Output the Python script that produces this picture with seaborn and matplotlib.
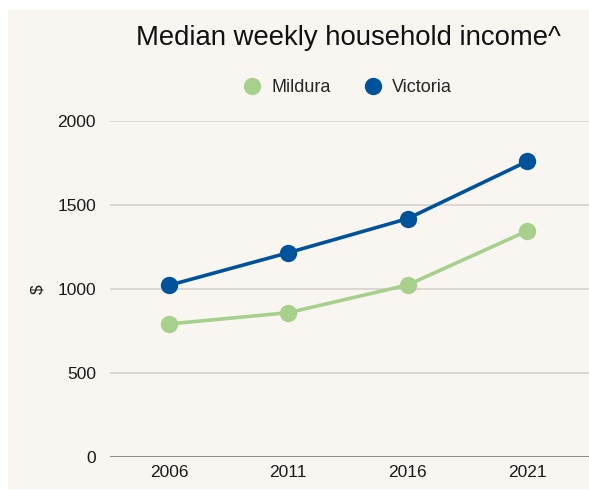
import matplotlib
matplotlib.use("Agg")
import matplotlib.pyplot as plt
import matplotlib.patches as mpatches
from matplotlib.lines import Line2D
import seaborn as sns
import pandas as pd

# ── Data ──────────────────────────────────────────────────────────────────────
years = ["2006", "2011", "2016", "2021"]
mildura = [792, 859, 1024, 1345]
victoria = [1022, 1216, 1419, 1759]
y_ticks = [0, 500, 1000, 1500, 2000]

GREEN = "#a8d08d"
BLUE = "#00539b"
BG = "#f9f6f2"

df = pd.DataFrame({
    "year": years * 2,
    "income": mildura + victoria,
    "region": ["Mildura"] * len(years) + ["Victoria"] * len(years),
})

sns.set_theme(style="white")
plt.rcParams["font.family"] = ["Liberation Sans", "DejaVu Sans"]

fig = plt.figure(figsize=(5.89, 4.90), dpi=100, facecolor="white")
fig.patches.append(mpatches.Rectangle((8 / 589, 1 / 490), 581 / 589, 479 / 490,
                                      transform=fig.transFigure, facecolor=BG,
                                      edgecolor="none", zorder=-10))

ax = fig.add_axes([110 / 589, 33 / 490, 479 / 589, 336 / 490])
ax.set_facecolor("none")

sns.lineplot(data=df, x="year", y="income", hue="region",
             palette={"Mildura": GREEN, "Victoria": BLUE},
             marker="o", markersize=12.5, markeredgewidth=0, linewidth=2.6,
             legend=False, ax=ax, zorder=3)
for line in ax.lines:
    line.set_clip_on(False)

ax.set_xlim(-0.495, 3.52)
ax.set_ylim(0, 2000)
ax.set_yticks(y_ticks)
ax.set_yticklabels([str(t) for t in y_ticks])
ax.grid(axis="y", color="#d8d3cd", linewidth=1.2)
ax.axhline(0, color="#8c8c8c", linewidth=1.4, zorder=2)
for s in ax.spines.values():
    s.set_visible(False)
ax.tick_params(axis="both", length=0, labelsize=12.5, colors="#1a1a1a")
ax.tick_params(axis="y", pad=10)
ax.tick_params(axis="x", pad=6)
ax.set_xlabel("")
ax.set_ylabel("$", fontsize=12.5, color="#1a1a1a", labelpad=9)

fig.text(348 / 589, 1 - 38 / 490, "Median weekly household income^",
         ha="center", va="center", fontsize=19.8, color="#111111")

handles = [Line2D([], [], marker="o", linestyle="none", markersize=12.5,
                  markerfacecolor=c, markeredgewidth=0) for c in (GREEN, BLUE)]
fig.legend(handles, ["Mildura", "Victoria"], loc="center",
           bbox_to_anchor=(343 / 589, 1 - 88 / 490), ncol=2, frameon=False,
           fontsize=13, handletextpad=0.1, columnspacing=1.3)

fig.savefig("out.png", dpi=100, facecolor="white")
